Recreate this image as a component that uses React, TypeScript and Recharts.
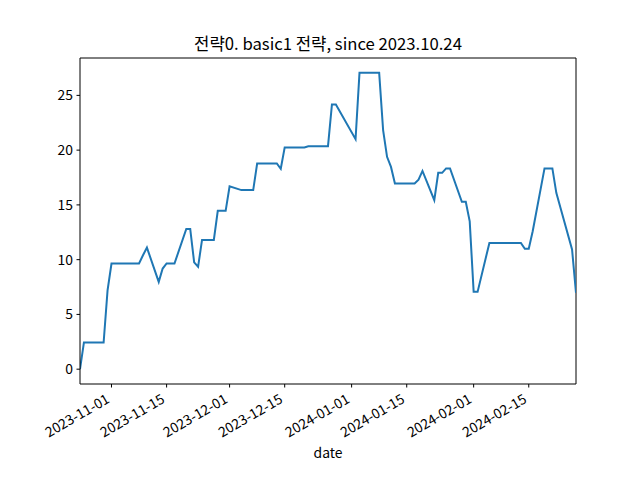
import { LineChart, Line, XAxis, YAxis, ReferenceLine } from "recharts";

// ─── Data ───────────────────────────────────────────────
const dates = [
    "2023-10-24", "2023-10-25", "2023-10-26", "2023-10-27", "2023-10-30", "2023-10-31",
    "2023-11-01", "2023-11-02", "2023-11-03", "2023-11-06", "2023-11-07", "2023-11-08",
    "2023-11-09", "2023-11-10", "2023-11-13", "2023-11-14", "2023-11-15", "2023-11-16",
    "2023-11-17", "2023-11-20", "2023-11-21", "2023-11-22", "2023-11-23", "2023-11-24",
    "2023-11-27", "2023-11-28", "2023-11-29", "2023-11-30", "2023-12-01", "2023-12-04",
    "2023-12-05", "2023-12-06", "2023-12-07", "2023-12-08", "2023-12-11", "2023-12-12",
    "2023-12-13", "2023-12-14", "2023-12-15", "2023-12-18", "2023-12-19", "2023-12-20",
    "2023-12-21", "2023-12-22", "2023-12-26", "2023-12-27", "2023-12-28", "2024-01-02",
    "2024-01-03", "2024-01-04", "2024-01-05", "2024-01-08", "2024-01-09", "2024-01-10",
    "2024-01-11", "2024-01-12", "2024-01-15", "2024-01-16", "2024-01-17", "2024-01-18",
    "2024-01-19", "2024-01-22", "2024-01-23", "2024-01-24", "2024-01-25", "2024-01-26",
    "2024-01-29", "2024-01-30", "2024-01-31", "2024-02-01", "2024-02-02", "2024-02-05",
    "2024-02-06", "2024-02-07", "2024-02-08", "2024-02-13", "2024-02-14", "2024-02-15",
    "2024-02-16", "2024-02-19", "2024-02-20", "2024-02-21", "2024-02-22", "2024-02-23",
    "2024-02-26", "2024-02-27",
];

const returns = [
    0, 2.44, 2.44, 2.44, 2.44, 7.2,
    9.65, 9.65, 9.65, 9.65, 9.65, 9.65,
    10.4, 11.1, 7.97, 9.19, 9.65, 9.65,
    9.65, 12.8, 12.8, 9.75, 9.35, 11.8,
    11.8, 14.46, 14.46, 14.46, 16.7, 16.35,
    16.35, 16.35, 16.35, 18.78, 18.78, 18.78,
    18.78, 18.3, 20.25, 20.25, 20.25, 20.25,
    20.36, 20.36, 20.36, 24.17, 24.17, 21.0,
    27.06, 27.06, 27.06, 27.06, 21.83, 19.39,
    18.47, 16.96, 16.96, 16.96, 16.96, 17.3,
    18.1, 15.43, 17.93, 17.93, 18.33, 18.33,
    15.28, 15.28, 13.5, 7.06, 7.06, 11.53,
    11.53, 11.53, 11.53, 11.53, 11.0, 11.0,
    12.6, 18.33, 18.33, 18.33, 16.1, 14.8,
    10.93, 6.97,
];

const xTickLabels = [
    "2023-11-01", "2023-11-15", "2023-12-01", "2023-12-15",
    "2024-01-01", "2024-01-15", "2024-02-01", "2024-02-15",
];
const yTicks = [0, 5, 10, 15, 20, 25];

const TITLE = "전략0. basic1 전략, since 2023.10.24";
const FONT = "'Noto Sans CJK KR', 'Noto Sans', sans-serif";

// ─── Helpers ────────────────────────────────────────────
function toTime(s: string): number {
    const [y, m, d] = s.split("-").map(Number);
    return Date.UTC(y, m - 1, d);
}

function fmtDate(t: number): string {
    return new Date(t).toISOString().slice(0, 10);
}

const data = dates.map((d, i) => ({ t: toTime(d), value: returns[i] }));
const xTicks = xTickLabels.map(toTime);
const xDomain = [toTime(dates[0]), toTime(dates[dates.length - 1])];

const yMin = Math.min(...returns);
const yMax = Math.max(...returns);
const yPad = (yMax - yMin) * 0.05;
const yDomain = [yMin - yPad, yMax + yPad];

// rotated date label, right end at the tick (like autofmt_xdate)
function DateTick({ x, y, payload }: any) {
    return (
        <g transform={`translate(${x - 1},${y + 11})`}>
            <text
                x={0}
                y={0}
                textAnchor="end"
                transform="rotate(-30)"
                fill="#000"
                fontSize={13.9}
                fontFamily={FONT}
            >
                {fmtDate(payload.value)}
            </text>
        </g>
    );
}

export default function App() {
    return (
        <div
            style={{
                position: "absolute",
                left: 0,
                top: 0,
                width: 640,
                height: 480,
                background: "#fff",
                fontFamily: FONT,
            }}
        >
            <div
                style={{
                    position: "absolute",
                    left: 80,
                    width: 496,
                    top: 31,
                    textAlign: "center",
                    fontSize: 16.7,
                    color: "#000",
                    whiteSpace: "nowrap",
                }}
            >
                {TITLE}
            </div>
            <LineChart
                width={640}
                height={480}
                data={data}
                margin={{ top: 58, right: 64, bottom: 0, left: 0 }}
            >
                <XAxis
                    dataKey="t"
                    type="number"
                    domain={xDomain}
                    ticks={xTicks}
                    interval={0}
                    height={96}
                    tick={<DateTick />}
                    tickSize={3.5}
                    tickMargin={3.5}
                    stroke="#000"
                    allowDataOverflow
                />
                <YAxis
                    type="number"
                    domain={yDomain}
                    ticks={yTicks}
                    interval={0}
                    width={80}
                    tickSize={3.5}
                    tickMargin={3.5}
                    stroke="#000"
                    tick={{ fill: "#000", fontSize: 13.9, fontFamily: FONT }}
                    allowDataOverflow
                />
                {/* top and right spines */}
                <ReferenceLine y={yDomain[1]} stroke="#000" ifOverflow="visible" />
                <ReferenceLine x={xDomain[1]} stroke="#000" ifOverflow="visible" />
                <Line
                    type="linear"
                    dataKey="value"
                    stroke="#1f77b4"
                    strokeWidth={2}
                    dot={false}
                    isAnimationActive={false}
                />
            </LineChart>
            <div
                style={{
                    position: "absolute",
                    left: 80,
                    width: 496,
                    top: 442,
                    textAlign: "center",
                    fontSize: 13.9,
                    color: "#000",
                }}
            >
                date
            </div>
        </div>
    );
}
